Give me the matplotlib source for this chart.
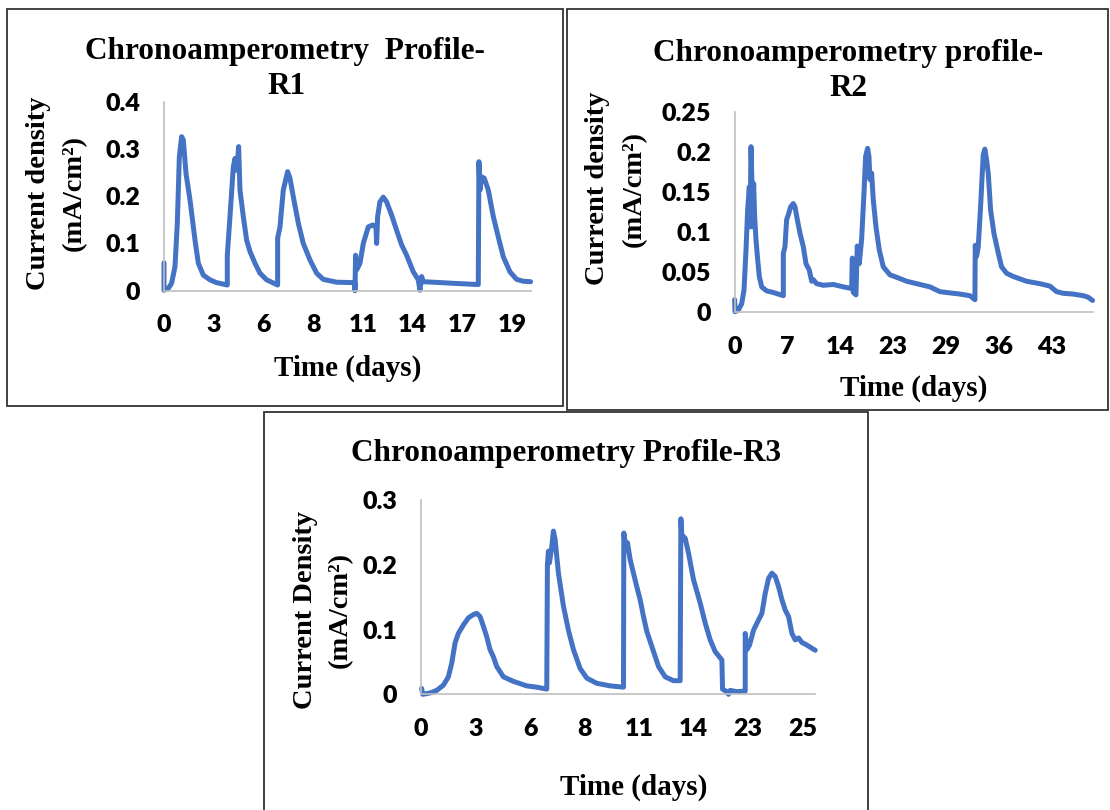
import matplotlib
matplotlib.use("Agg")
import matplotlib.pyplot as plt
from matplotlib.patches import Rectangle

# ---------------- data (x = position along the category axis, y = mA/cm2) ----------------
r1_labels = ["0", "3", "6", "8", "11", "14", "17", "19"]
r1_x = [0, 0, 0.087, 0.154, 0.221, 0.268, 0.309, 0.355, 0.389, 0.443, 0.523, 0.624, 0.691,
        0.791, 0.926, 1.060, 1.274, 1.274, 1.328, 1.395, 1.429, 1.462, 1.482, 1.502, 1.529,
        1.596, 1.663, 1.730, 1.831, 1.932, 2.066, 2.287, 2.287, 2.334, 2.401, 2.488, 2.535,
        2.602, 2.703, 2.803, 2.938, 3.072, 3.206, 3.474, 3.843, 3.843, 3.856, 3.877, 3.944,
        4.011, 4.111, 4.199, 4.266, 4.279, 4.299, 4.346, 4.413, 4.480, 4.581, 4.681, 4.782,
        4.883, 5.017, 5.117, 5.151, 5.185, 5.218, 5.419, 5.755, 6.325, 6.338, 6.358, 6.392,
        6.445, 6.526, 6.627, 6.727, 6.828, 6.962, 7.096, 7.230, 7.378]
r1_y = [0.059, 0.001, 0.005, 0.016, 0.051, 0.143, 0.284, 0.326, 0.319, 0.248, 0.192, 0.107, 0.058,
        0.033, 0.023, 0.017, 0.012, 0.075, 0.157, 0.262, 0.280, 0.255, 0.277, 0.305, 0.213,
        0.157, 0.107, 0.083, 0.058, 0.037, 0.023, 0.012, 0.111, 0.135, 0.213, 0.252, 0.238,
        0.199, 0.143, 0.100, 0.065, 0.037, 0.024, 0.018, 0.017, 0.0, 0.075, 0.044, 0.058,
        0.100, 0.135, 0.139, 0.135, 0.100, 0.157, 0.188, 0.198, 0.188, 0.160, 0.128, 0.097,
        0.075, 0.040, 0.023, 0.001, 0.030, 0.019, 0.018, 0.016, 0.013, 0.273, 0.213, 0.241,
        0.238, 0.213, 0.157, 0.114, 0.072, 0.040, 0.024, 0.020, 0.019]

r2_labels = ["0", "7", "14", "23", "29", "36", "43"]
r2_x = [0, 0.008, 0.071, 0.134, 0.178, 0.216, 0.247, 0.279, 0.292, 0.311, 0.330, 0.342, 0.361,
        0.380, 0.405, 0.437, 0.468, 0.513, 0.607, 0.734, 0.828, 0.923, 0.923, 0.954, 0.986,
        1.018, 1.062, 1.112, 1.144, 1.188, 1.239, 1.302, 1.352, 1.415, 1.460, 1.491, 1.554,
        1.680, 1.870, 2.059, 2.217, 2.230, 2.249, 2.299, 2.324, 2.362, 2.406, 2.451, 2.482,
        2.520, 2.545, 2.564, 2.596, 2.627, 2.678, 2.741, 2.817, 2.943, 3.070, 3.259, 3.512,
        3.700, 3.890, 4.016, 4.269, 4.458, 4.553, 4.559, 4.584, 4.616, 4.660, 4.710, 4.742,
        4.773, 4.805, 4.850, 4.913, 4.982, 5.058, 5.153, 5.279, 5.532, 5.784, 5.973, 6.100,
        6.226, 6.416, 6.605, 6.700, 6.782]
r2_y = [0.016, 0.001, 0.003, 0.011, 0.028, 0.078, 0.128, 0.157, 0.107, 0.207, 0.160, 0.107, 0.161,
        0.120, 0.091, 0.066, 0.045, 0.032, 0.027, 0.025, 0.023, 0.021, 0.074, 0.082, 0.116,
        0.122, 0.132, 0.136, 0.132, 0.116, 0.099, 0.082, 0.061, 0.053, 0.039, 0.041, 0.036,
        0.034, 0.035, 0.032, 0.030, 0.068, 0.025, 0.022, 0.083, 0.061, 0.091, 0.149, 0.195,
        0.205, 0.195, 0.166, 0.174, 0.141, 0.107, 0.078, 0.057, 0.047, 0.044, 0.039, 0.035,
        0.032, 0.026, 0.025, 0.023, 0.021, 0.016, 0.084, 0.070, 0.082, 0.132, 0.197, 0.204,
        0.191, 0.174, 0.128, 0.099, 0.078, 0.057, 0.049, 0.045, 0.039, 0.036, 0.033, 0.026,
        0.024, 0.023, 0.021, 0.019, 0.015]

r3_labels = ["0", "3", "6", "8", "11", "14", "23", "25"]
r3_x = [0.012, 0.031, 0.165, 0.287, 0.410, 0.502, 0.563, 0.624, 0.685, 0.777, 0.869, 0.960,
        1.021, 1.083, 1.144, 1.205, 1.266, 1.327, 1.388, 1.511, 1.694, 1.939, 2.122, 2.306,
        2.318, 2.336, 2.355, 2.398, 2.428, 2.459, 2.520, 2.612, 2.703, 2.795, 2.917, 3.040,
        3.223, 3.468, 3.713, 3.719, 3.761, 3.786, 3.835, 3.896, 3.957, 4.018, 4.080, 4.141,
        4.232, 4.355, 4.477, 4.630, 4.752, 4.765, 4.783, 4.844, 4.905, 4.997, 5.119, 5.211,
        5.303, 5.394, 5.517, 5.529, 5.609, 5.639, 5.670, 5.792, 5.945, 5.945, 5.976, 6.024,
        6.098, 6.190, 6.251, 6.312, 6.373, 6.434, 6.495, 6.557, 6.618, 6.679, 6.740, 6.801,
        6.862, 6.924, 6.985, 7.077, 7.168, 7.229]
r3_y = [0.009, 0.0, 0.002, 0.006, 0.014, 0.027, 0.048, 0.079, 0.094, 0.107, 0.118, 0.123,
        0.125, 0.120, 0.105, 0.089, 0.069, 0.058, 0.043, 0.027, 0.020, 0.013, 0.011, 0.008,
        0.200, 0.221, 0.203, 0.228, 0.252, 0.239, 0.187, 0.136, 0.099, 0.069, 0.040, 0.025,
        0.017, 0.013, 0.011, 0.249, 0.223, 0.234, 0.208, 0.187, 0.166, 0.146, 0.120, 0.097,
        0.074, 0.043, 0.027, 0.021, 0.021, 0.271, 0.246, 0.241, 0.218, 0.177, 0.141, 0.110,
        0.084, 0.066, 0.053, 0.008, 0.004, 0.0, 0.006, 0.004, 0.005, 0.094, 0.069, 0.076,
        0.099, 0.115, 0.125, 0.156, 0.179, 0.187, 0.182, 0.166, 0.146, 0.130, 0.120, 0.094,
        0.084, 0.087, 0.080, 0.076, 0.071, 0.068]

W, H = 1110, 810
BLUE = "#4472C4"
SERIF = "Liberation Serif"
TICKFONT = "Lato"


def fx(x):
    return x / W


def fy(y):
    return 1 - y / H


fig = plt.figure(figsize=(11.1, 8.1), dpi=100)

# panel frames
for (x0, y0, x1, y1) in [(7, 9, 563, 406), (567, 9, 1108, 410), (264, 412, 868, 815)]:
    fig.patches.append(Rectangle((fx(x0), fy(y1)), fx(x1 - x0), (y1 - y0) / H,
                                 transform=fig.transFigure, fill=False,
                                 edgecolor="#333333", linewidth=1.3))


def panel(box, xs, ys, labels, xmax, ymax, yticks, ytlabels):
    ax = fig.add_axes([fx(box[0]), fy(box[3]), fx(box[2] - box[0]), (box[3] - box[1]) / H])
    ax.plot(xs, ys, color=BLUE, linewidth=3.6, solid_joinstyle="round", solid_capstyle="round",
            clip_on=False)
    ax.set_xlim(0, xmax)
    ax.set_ylim(0, ymax)
    ax.set_xticks(range(len(labels)))
    ax.set_xticklabels(labels)
    ax.set_yticks(yticks)
    ax.set_yticklabels(ytlabels)
    for s in ["top", "right"]:
        ax.spines[s].set_visible(False)
    for s in ["left", "bottom"]:
        ax.spines[s].set_color("#BFBFBF")
        ax.spines[s].set_linewidth(1.2)
    ax.tick_params(length=0, pad=17)
    for t in ax.get_xticklabels() + ax.get_yticklabels():
        t.set_fontfamily(TICKFONT)
        t.set_fontweight("heavy")
        t.set_fontsize(18)
    ax.patch.set_alpha(0)
    return ax


panel((164, 101.7, 530.7, 290.7), r1_x, r1_y, r1_labels, 7.38, 0.4,
      [0, 0.1, 0.2, 0.3, 0.4], ["0", "0.1", "0.2", "0.3", "0.4"])
panel((734.6, 112.3, 1093, 312.5), r2_x, r2_y, r2_labels, 6.79, 0.25,
      [0, 0.05, 0.1, 0.15, 0.2, 0.25], ["0", "0.05", "0.1", "0.15", "0.2", "0.25"])
panel((421, 500, 815.3, 694.3), r3_x, r3_y, r3_labels, 7.23, 0.3,
      [0, 0.1, 0.2, 0.3], ["0", "0.1", "0.2", "0.3"])


def txt(x, y, s, size, rot=0):
    fig.text(fx(x), fy(y), s, ha="center", va="center", rotation=rot,
             fontfamily=SERIF, fontweight="bold", fontsize=size)


# panel 1 texts
txt(285, 51, "Chronoamperometry  Profile-", 22.5)
txt(287, 86, "R1", 22.5)
txt(39, 193, "Current density", 20.5, 90)
txt(74, 193, "(mA/cm\u00b2)", 20.5, 90)
txt(348, 368, "Time (days)", 21)

# panel 2 texts
txt(848, 54, "Chronoamperometry profile-", 22.5)
txt(849, 89, "R2", 22.5)
txt(598, 188, "Current density", 20.5, 90)
txt(634, 189, "(mA/cm\u00b2)", 20.5, 90)
txt(914, 388, "Time (days)", 21)

# panel 3 texts
txt(566, 453, "Chronoamperometry Profile-R3", 22.5)
txt(305, 610, "Current Density", 20.5, 90)
txt(340, 610, "(mA/cm\u00b2)", 20.5, 90)
txt(634, 787, "Time (days)", 21)

fig.savefig("out.png", dpi=100)
